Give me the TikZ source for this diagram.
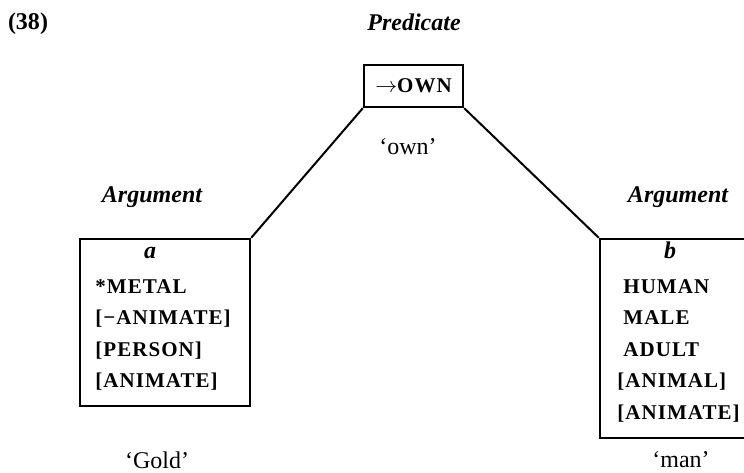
\documentclass[tikz,border=0pt]{standalone}
\usepackage{fontspec}
\setmainfont{Liberation Serif}
\usetikzlibrary{positioning}

\newcommand{\feat}[1]{{\fontsize{10.5pt}{12pt}\selectfont\bfseries\addfontfeature{LetterSpace=5}#1}}

\begin{document}
\begin{tikzpicture}[x=0.5pt, y=-0.5pt,
  frame/.style={draw, line width=1.2pt, inner sep=0pt},
  head/.style={font=\fontsize{12pt}{14pt}\selectfont\bfseries\itshape},
  gloss/.style={font=\fontsize{12pt}{14pt}\selectfont, inner sep=0pt},
  lab/.style={anchor=base west, inner sep=0pt}]
  \clip (0,0) rectangle (744,472);

  \node[font=\fontsize{12pt}{14pt}\selectfont\bfseries] (num) at (28,24) {(38)};

  % predicate
  \node[head] (pred) at (414,22) {Predicate};
  \node[frame, minimum width=49.5pt, minimum height=21pt] (own) at (413.5,86) {\feat{\(\rightarrow\)OWN}};
  \node[gloss] (ownsense) at (408,147) {`own'};

  % first argument
  \node[head] (arga) at (152,197) {Argument};
  \node[frame, minimum width=85pt, minimum height=83.5pt] (boxa) at (165,322.5) {};
  \node[head, anchor=base] (vara) at (150,258) {a};
  \foreach \lab [count=\i] in {{*METAL},{[−ANIMATE]},{[PERSON]},{[ANIMATE]}} {
    \node[lab] (a\i) at (95,261.4+31.6*\i) {\feat{\lab}};
  }
  \node[gloss] (gold) at (157,460) {`Gold'};

  % second argument
  \node[head] (argb) at (678,197) {Argument};
  \node[frame, minimum width=90pt, minimum height=99.5pt] (boxb) at (690,338.5) {};
  \node[head, anchor=base] (varb) at (670,258) {b};
  \foreach \x/\lab [count=\i] in {623/HUMAN,623/MALE,623/ADULT,617/{[ANIMAL]},617/{[ANIMATE]}} {
    \node[lab] (b\i) at (\x,261.4+31.6*\i) {\feat{\lab}};
  }
  \node[gloss] (mansense) at (681,460) {`man'};

  \draw[line width=1pt] (own.south west) -- (boxa.north east);
  \draw[line width=1pt] (own.south east) -- (boxb.north west);
\end{tikzpicture}
\end{document}
